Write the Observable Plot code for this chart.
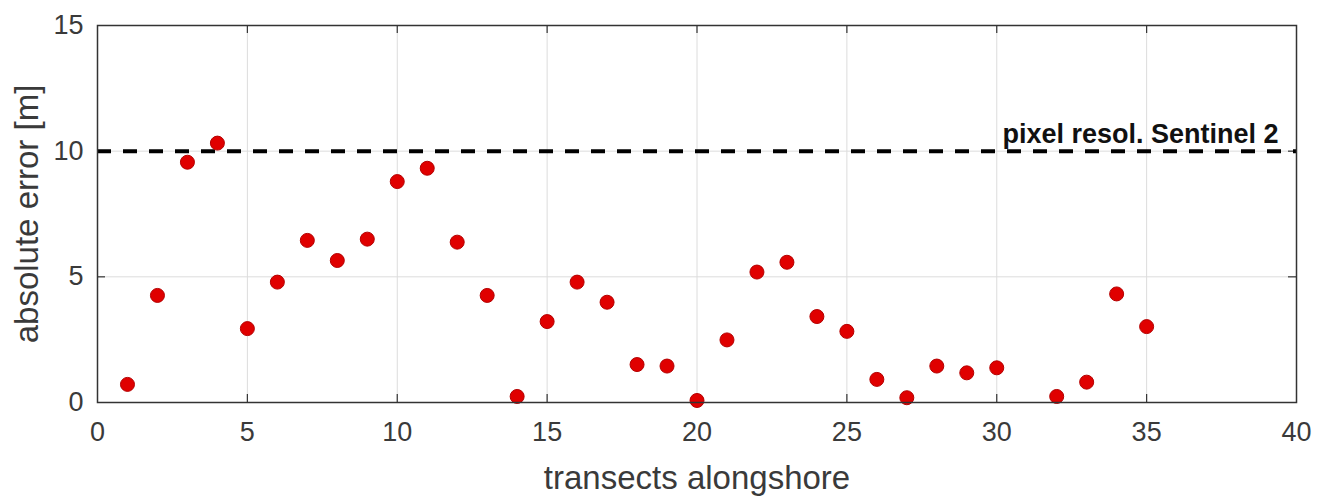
<!DOCTYPE html>
<html>
<head>
<meta charset="utf-8">
<script src="https://cdn.jsdelivr.net/npm/d3@7"></script>
<script src="https://cdn.jsdelivr.net/npm/@observablehq/plot@0.6"></script>
<style>
  html, body { margin: 0; padding: 0; background: #fff; }
</style>
</head>
<body>
<div id="chart"></div>
<script>
const transects = [1,2,3,4,5,6,7,8,9,10,11,12,13,14,15,16,17,18,19,20,21,22,23,24,25,26,27,28,29,30,32,33,34,35];
const absError  = [0.72,4.26,9.56,10.32,2.94,4.79,6.45,5.65,6.50,8.79,9.32,6.38,4.26,0.24,3.22,4.79,3.99,1.51,1.45,0.08,2.49,5.19,5.58,3.42,2.83,0.92,0.19,1.45,1.18,1.38,0.24,0.81,4.32,3.02];
const xTicks = [0,5,10,15,20,25,30,35,40];
const yTicks = [0,5,10,15];
const refLevel = [10];
const refLabel = ["pixel resol. Sentinel 2"];
const refLabelX = 39.4;
const xLabel = ["transects alongshore"];
const yLabel = ["absolute error [m]"];

const W = 1330, H = 496, mL = 97, mR = 34, mT = 25, mB = 94;
const plotW = W - mL - mR, plotH = H - mT - mB, tickLen = 8;

const data = transects.map((t, i) => ({t, e: absError[i]}));
const inner = xTicks.slice(1, -1);
const innerY = yTicks.slice(1, -1);
const tickStyle = {stroke: "#333", strokeWidth: 1.2};

const chart = Plot.plot({
  width: W,
  height: H,
  marginLeft: mL,
  marginRight: mR,
  marginTop: mT,
  marginBottom: mB,
  style: {fontFamily: "'Liberation Sans', Arial, Helvetica, sans-serif", fontSize: "26px", color: "#333", background: "#fff", overflow: "visible"},
  x: {domain: [0, 40], label: null},
  y: {domain: [0, 15], label: null},
  marks: [
    Plot.gridX(inner, {stroke: "#dcdcdc", strokeOpacity: 1, strokeWidth: 1}),
    Plot.gridY(innerY, {stroke: "#dcdcdc", strokeOpacity: 1, strokeWidth: 1}),
    Plot.tickX(inner, {x: d => d, insetTop: plotH - tickLen, ...tickStyle}),
    Plot.tickX(inner, {x: d => d, insetBottom: plotH - tickLen, ...tickStyle}),
    Plot.tickY(innerY, {y: d => d, insetRight: plotW - tickLen, ...tickStyle}),
    Plot.tickY(innerY, {y: d => d, insetLeft: plotW - tickLen, ...tickStyle}),
    Plot.ruleY(refLevel, {stroke: "#000", strokeWidth: 4, strokeDasharray: "14,12"}),
    Plot.text(refLabel, {x: () => refLabelX, y: () => refLevel[0], text: d => d, textAnchor: "end", lineAnchor: "bottom", dy: -8, fontWeight: "bold", fontSize: 27, fill: "#111"}),
    Plot.dot(data, {x: "t", y: "e", r: 7, fill: "#e00000", stroke: "#b40000", strokeWidth: 1}),
    Plot.axisX(xTicks, {anchor: "bottom", tickSize: 0, tickPadding: 19, fontSize: 27, fill: "#3a3a3a", label: null}),
    Plot.axisY(yTicks, {anchor: "left", tickSize: 0, tickPadding: 14, fontSize: 27, fill: "#3a3a3a", label: null}),
    Plot.frame({stroke: "#333", strokeWidth: 1.5}),
    Plot.text(xLabel, {frameAnchor: "bottom", text: d => d, dy: 76, textAnchor: "middle", lineAnchor: "middle", fontSize: 33, fill: "#3a3a3a"}),
    Plot.text(yLabel, {frameAnchor: "left", text: d => d, dx: -70, rotate: -90, textAnchor: "middle", lineAnchor: "middle", fontSize: 33, fill: "#3a3a3a"})
  ]
});
document.getElementById("chart").appendChild(chart);
</script>
</body>
</html>
